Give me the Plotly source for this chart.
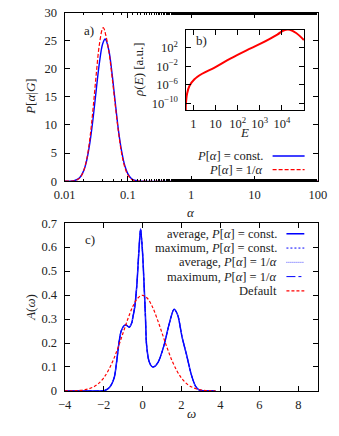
import plotly.graph_objects as go

# ---------------- data ----------------
# panel a) posterior P[alpha|G]
alpha_const = [0.01, 0.01413, 0.01585, 0.01778, 0.01995, 0.02239, 0.02512, 0.02818, 0.03162,
               0.03548, 0.03981, 0.04355, 0.04467, 0.05012, 0.05623, 0.06310, 0.07079, 0.07943,
               0.08913, 0.1, 0.1122, 0.1259, 0.1413, 0.1585, 100]
p_const = [0, 0.11, 0.31, 0.80, 1.84, 3.78, 6.9, 11.2, 16.3, 21.1, 24.4, 25.3, 25.2, 23.2,
           19.1, 14.0, 9.1, 5.4, 2.8, 1.3, 0.53, 0.2, 0.07, 0.02, 0]
alpha_inv = [0.01, 0.01413, 0.01585, 0.01778, 0.01995, 0.02239, 0.02512, 0.02818, 0.03162,
             0.03548, 0.03981, 0.04111, 0.04467, 0.05012, 0.05623, 0.06310, 0.07079, 0.07943,
             0.08913, 0.1, 0.1122, 0.1259, 0.1413, 0.1585, 100]
p_inv = [0, 0.07, 0.25, 0.72, 1.84, 4.0, 7.7, 13.0, 19.1, 24.4, 27.2, 27.3, 26.0, 23.0,
         18.5, 13.5, 8.8, 5.0, 2.5, 1.1, 0.4, 0.12, 0.03, 0.01, 0]

# panel b) inset rho(E)
energy = [0.455, 0.46, 0.525, 0.676, 1.12, 2.5, 9.1, 46.8, 240, 1200, 6170, 11750, 22400, 43650, 97700]
rho = [3e-12, 4e-11, 1.3e-8, 6e-7, 1.6e-5, 2.5e-4, 5.6e-3, 0.5, 27.5, 1100, 8e4, 6.3e5, 9e5, 1.8e5, 5.4e3]

# panel c) spectral function
omega = [-4.0, -2.2, -1.94, -1.70, -1.46, -1.33, -1.21, -1.10, -0.94, -0.85, -0.68, -0.55, -0.49,
         -0.40, -0.29, -0.19, -0.10, 0.0, 0.08, 0.15, 0.20, 0.26, 0.32, 0.42, 0.53, 0.65, 0.81,
         1.10, 1.38, 1.62, 1.81, 2.02, 2.27, 2.51, 2.72, 2.91, 3.2, 3.75]
a_avg_const = [0, 0, 0.002, 0.014, 0.054, 0.121, 0.20, 0.249, 0.273, 0.275, 0.266, 0.285, 0.31,
               0.35, 0.444, 0.579, 0.675, 0.579, 0.444, 0.31, 0.20, 0.155, 0.128, 0.108, 0.100,
               0.104, 0.121, 0.189, 0.283, 0.341, 0.316, 0.229, 0.148, 0.067, 0.02, 0.004, 0.0005, 0]
a_max_const = a_avg_const
a_avg_inv = a_avg_const
a_max_inv = a_avg_const
omega_def = [-4, -3.75, -3.5, -3.25, -3, -2.75, -2.5, -2.25, -2, -1.75, -1.5, -1.25, -1, -0.75,
             -0.5, -0.25, 0, 0.25, 0.5, 0.75, 1, 1.25, 1.5, 1.75, 2, 2.25, 2.5, 2.75, 3, 3.25,
             3.5, 3.75]
a_default = [0.0001, 0.0004, 0.0009, 0.0020, 0.0044, 0.0091, 0.0175, 0.0317, 0.0540, 0.0863,
             0.1295, 0.1826, 0.2420, 0.3011, 0.3521, 0.3867, 0.3989, 0.3867, 0.3521, 0.3011,
             0.2420, 0.1826, 0.1295, 0.0863, 0.0540, 0.0317, 0.0175, 0.0091, 0.0044, 0.0020,
             0.0009, 0.0004]

# tick labels
top_x_ticks = [0.01, 0.1, 1, 10, 100]
top_x_text = ["0.01", "0.1", "1", "10", "100"]
inset_x_ticks = [1, 10, 100, 1000, 10000]
inset_x_text = ["1", "10", "10<sup>2</sup>", "10<sup>3</sup>", "10<sup>4</sup>"]
inset_y_ticks = [1e-10, 1e-6, 1e-2, 1e2]
inset_y_text = ["10<sup>−10</sup>", "10<sup>−6</sup>", "10<sup>−2</sup>", "10<sup>2</sup>"]
bot_y_ticks = [0, 0.1, 0.2, 0.3, 0.4, 0.5, 0.6, 0.7]
bot_y_text = ["0", "0.1", "0.2", "0.3", "0.4", "0.5", "0.6", "0.7"]

# ---------------- figure ----------------
W, H = 339, 436
FONT = "Liberation Serif"
BLUE = "#0000ff"
RED = "#ff0000"


def px(x):
    return x / W


def py(y):
    return 1 - y / H


fig = go.Figure()

fig.add_trace(go.Scatter(x=alpha_const, y=p_const, mode="lines", line=dict(color=BLUE, width=1.4, shape="spline"),
                         xaxis="x", yaxis="y", showlegend=False))
fig.add_trace(go.Scatter(x=alpha_inv, y=p_inv, mode="lines", line=dict(color=RED, width=1.2, dash="4px,2px", shape="spline"),
                         xaxis="x", yaxis="y", showlegend=False))
fig.add_trace(go.Scatter(x=energy, y=rho, mode="lines", line=dict(color=RED, width=2, shape="spline"),
                         xaxis="x3", yaxis="y3", showlegend=False))
fig.add_trace(go.Scatter(x=omega, y=a_avg_const, mode="lines", line=dict(color=BLUE, width=1.5, shape="spline", smoothing=0.8),
                         xaxis="x2", yaxis="y2", showlegend=False))
fig.add_trace(go.Scatter(x=omega, y=a_max_const, mode="lines", line=dict(color=BLUE, width=1, dash="2px,2px", shape="spline", smoothing=0.8),
                         xaxis="x2", yaxis="y2", showlegend=False))
fig.add_trace(go.Scatter(x=omega, y=a_avg_inv, mode="lines", line=dict(color="#5050ff", width=1, dash="1px,1px", shape="spline", smoothing=0.8),
                         xaxis="x2", yaxis="y2", showlegend=False))
fig.add_trace(go.Scatter(x=omega, y=a_max_inv, mode="lines", line=dict(color=BLUE, width=1, dash="dashdot", shape="spline", smoothing=0.8),
                         xaxis="x2", yaxis="y2", showlegend=False))
fig.add_trace(go.Scatter(x=omega_def, y=a_default, mode="lines", line=dict(color=RED, width=1.2, dash="3px,2px", shape="spline"),
                         xaxis="x2", yaxis="y2", showlegend=False))

ax_common = dict(showline=True, linecolor="black", linewidth=1.2, mirror="allticks", ticks="inside",
                 ticklen=5, tickcolor="black", showgrid=False, zeroline=False,
                 ticklabeloverflow="allow",
                 tickfont=dict(family=FONT, size=12.5, color="#222"))
xstand = dict(ticklabelstandoff=2)
ystand = dict(ticklabelstandoff=4)

fig.update_layout(
    width=W, height=H, margin=dict(l=0, r=0, t=0, b=0),
    paper_bgcolor="white", plot_bgcolor="rgba(0,0,0,0)",
    showlegend=False,
    xaxis=dict(ax_common, **xstand, type="log", range=[-2, 2], domain=[px(57), px(326)], anchor="y",
               tickvals=top_x_ticks, ticktext=top_x_text,
               minor=dict(ticks="inside", ticklen=2.5, tickwidth=0.8, tickcolor="black", showgrid=False)),
    yaxis=dict(ax_common, **ystand, range=[0, 30], dtick=5, domain=[py(180), py(5.7)], anchor="x"),
    xaxis2=dict(ax_common, **xstand, range=[-4, 9], dtick=2, domain=[px(57), px(326)], anchor="y2"),
    yaxis2=dict(ax_common, **ystand, range=[0, 0.7], tickvals=bot_y_ticks, ticktext=bot_y_text,
                domain=[py(396.7), py(223.3)], anchor="x2"),
    xaxis3=dict(ax_common, **xstand, type="log", range=[-0.35, 5.0], domain=[px(185.5), px(311.5)], anchor="y3",
                tickvals=inset_x_ticks, ticktext=inset_x_text),
    yaxis3=dict(ax_common, **ystand, type="log", range=[-11.5, 6.0], domain=[py(106.5), py(23.3)], anchor="x3",
                tickvals=inset_y_ticks, ticktext=inset_y_text),
)

ann = []


def text(x, y, s, xanchor="center", angle=0, size=13):
    ann.append(dict(x=px(x), y=py(y), xref="paper", yref="paper", text=s, showarrow=False,
                    xanchor=xanchor, yanchor="middle", textangle=angle,
                    font=dict(family=FONT, size=size, color="#222")))


# axis titles
text(191.5, 212, "<i>α</i>")
text(20, 93, "<i>P</i>[<i>α</i>|<i>G</i>]", angle=-90)
text(191.5, 420, "<i>ω</i>")
text(20, 310, "<i>A</i>(<i>ω</i>)", angle=-90)
text(136, 64, "<i>ρ</i>(<i>E</i>) [a.u.]", angle=-90)
text(248, 130, "<i>E</i>")
# panel labels
text(75, 24, "a)", xanchor="left")
text(194, 35, "b)", xanchor="left")
text(76, 240, "c)", xanchor="left")

shapes = []


def sample(y, color, dash, width=1.4, x0=278, x1=312):
    shapes.append(dict(type="line", xref="paper", yref="paper", x0=px(x0), x1=px(x1), y0=py(y), y1=py(y),
                       line=dict(color=color, width=width, dash=dash)))


# legend a)
text(270, 154, "<i>P</i>[<i>α</i>] = const.", xanchor="right", size=12.5)
sample(154, BLUE, "solid")
text(270, 168, "<i>P</i>[<i>α</i>] = 1/<i>α</i>", xanchor="right", size=12.5)
sample(168, RED, "4px,2px", 1.2)

# legend c)
leg_c = [
    ("average, <i>P</i>[<i>α</i>] = const.", BLUE, "solid", 1.5),
    ("maximum, <i>P</i>[<i>α</i>] = const.", BLUE, "2px,2px", 1),
    ("average, <i>P</i>[<i>α</i>] = 1/<i>α</i>", "#5050ff", "1px,1px", 1),
    ("maximum, <i>P</i>[<i>α</i>] = 1/<i>α</i>", BLUE, "dashdot", 1),
    ("Default", RED, "3px,2px", 1.2),
]
for i, (lbl, col, dsh, wd) in enumerate(leg_c):
    yy = 234.3 + i * 14.75
    text(285, yy, lbl, xanchor="right", size=12.5)
    sample(yy, col, dsh, wd, 292.7, 311.7)

fig.update_layout(annotations=ann, shapes=shapes)
fig.write_html("out.html", config={"displayModeBar": False},
               post_script="document.body.style.margin='0';document.body.style.overflow='hidden';")
